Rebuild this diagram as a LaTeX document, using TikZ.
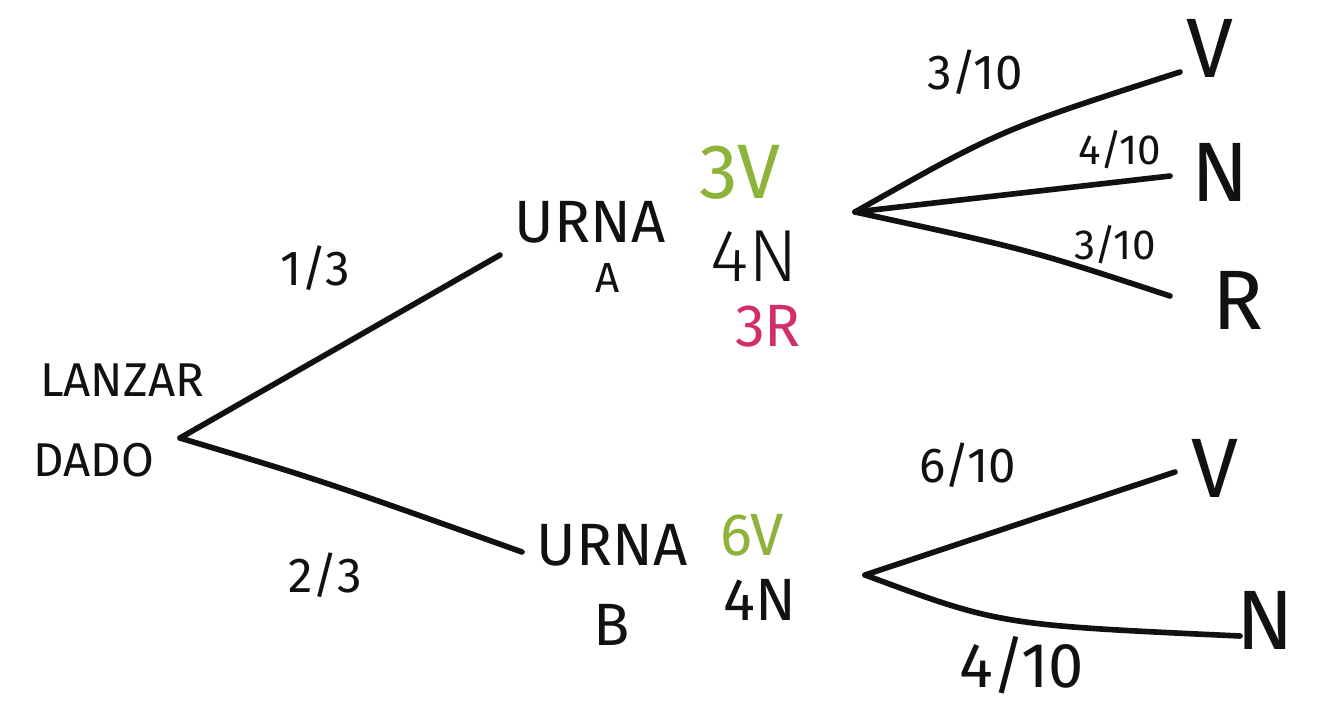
\documentclass[tikz,border=0pt]{standalone}
\usepackage{fontspec}
\setmainfont{Fira Sans}
\newfontfamily\thinfont{Fira Sans Light}
\definecolor{vgreen}{HTML}{8DB33A}
\definecolor{rmag}{HTML}{D02F6C}
\definecolor{ink}{HTML}{111111}
\begin{document}
\begin{tikzpicture}[x=0.02cm,y=-0.02cm,
  branch/.style={line width=3.2pt,line cap=round,draw=ink},
  lbl/.style={inner sep=0pt,text=ink},
  small/.style={lbl,font=\fontsize{27}{29}\selectfont},
  mid/.style={lbl,font=\fontsize{34}{36}\selectfont},
  big/.style={lbl,font=\fontsize{44}{46}\selectfont},
  leaf/.style={lbl,font=\fontsize{48}{50}\selectfont},
  frac/.style={lbl,font=\fontsize{28}{30}\selectfont}]
\useasboundingbox (0,0) rectangle (1325,722);
% root
\node[small] (lanzar) at (122,380) {LANZAR};
\node[small] (dado) at (94,460) {DADO};
\coordinate (root) at (180,438);
\coordinate (ua) at (500,255);
\coordinate (ub) at (522,552);
\draw[branch] (root) -- (ua);
\draw[branch] (root) .. controls (320,480) .. (ub);
\node[frac] (p13) at (315,268) {1/3};
\node[frac] (p23) at (325,575) {2/3};
% urna A
\node[mid] (urnaA) at (590,222) {URNA};
\node[lbl,font=\fontsize{24}{26}\selectfont] (A) at (608,278) {A};
\node[big,text=vgreen] (a3v) at (740,172) {3V};
\node[lbl,font=\fontsize{42}{44}\thinfont] (a4n) at (754,256) {4N};
\node[mid,text=rmag] (a3r) at (768,326) {3R};
% urna B
\node[mid] (urnaB) at (612,545) {URNA};
\node[mid] (B) at (612,625) {B};
\node[mid,text=vgreen] (b6v) at (752,535) {6V};
\node[mid] (b4n) at (760,600) {4N};
% upper branches
\coordinate (sa) at (855,212);
\coordinate (av) at (1180,72);
\coordinate (an) at (1170,176);
\coordinate (ar) at (1170,296);
\draw[branch] (sa) .. controls (1000,130) .. (av);
\draw[branch] (sa) -- (an);
\draw[branch] (sa) .. controls (1030,250) .. (ar);
\node[leaf] (lav) at (1210,48) {V};
\node[leaf] (lan) at (1220,172) {N};
\node[leaf] (lar) at (1238,300) {R};
\node[frac] (pav) at (975,72) {3/10};
\node[frac,font=\fontsize{24}{26}\selectfont] (pan) at (1120,150) {4/10};
\node[frac,font=\fontsize{24}{26}\selectfont] (par) at (1115,245) {3/10};
% lower branches
\coordinate (sb) at (865,575);
\coordinate (bv) at (1175,472);
\coordinate (bn) at (1240,636);
\draw[branch] (sb) -- (bv);
\draw[branch] (sb) .. controls (1000,625) .. (bn);
\node[leaf] (lbv) at (1215,468) {V};
\node[leaf] (lbn) at (1265,620) {N};
\node[frac] (pbv) at (968,465) {6/10};
\node[frac,font=\fontsize{36}{38}\selectfont] (pbn) at (1022,665) {4/10};
\end{tikzpicture}
\end{document}
